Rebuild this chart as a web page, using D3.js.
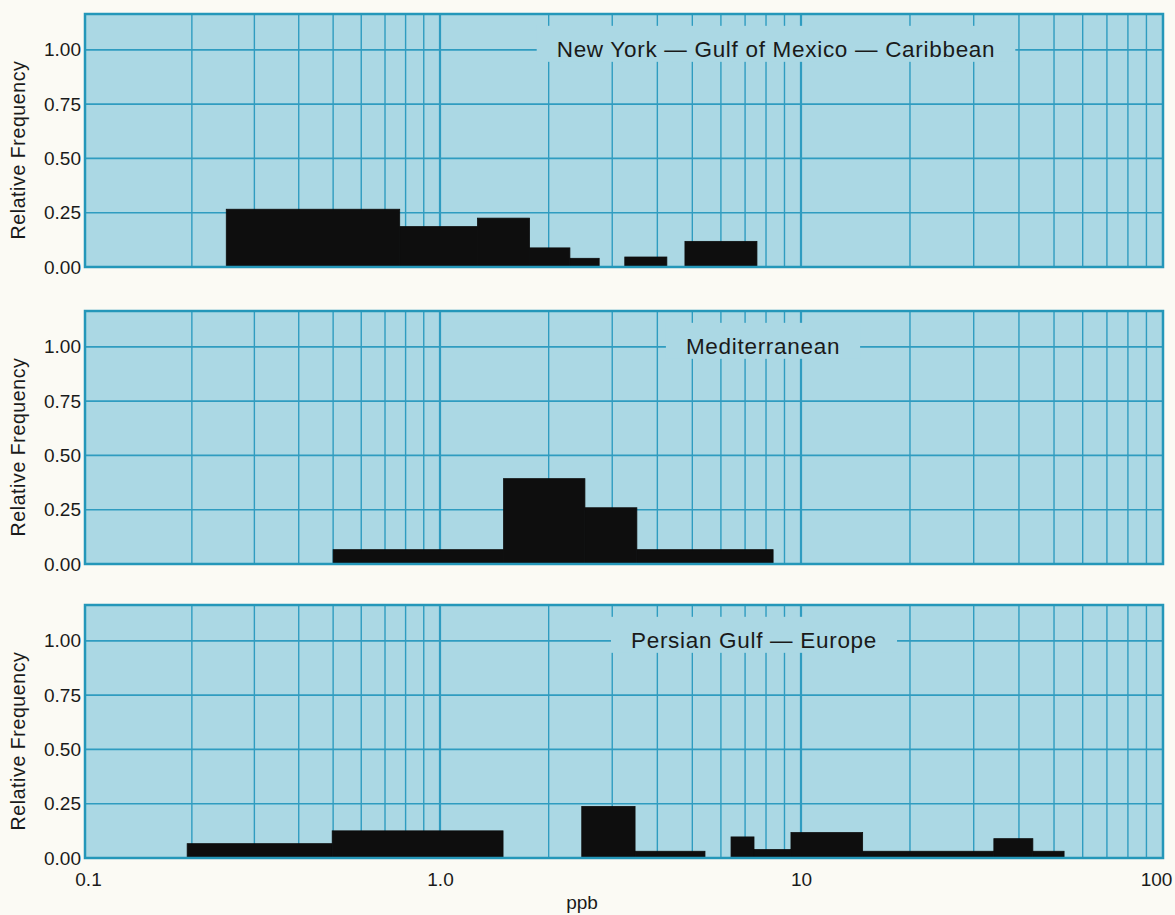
<!DOCTYPE html>
<html>
<head>
<meta charset="utf-8">
<script src="https://cdn.jsdelivr.net/npm/d3@7"></script>
<style>
  body { margin: 0; background: #fbfaf4; }
  svg { display: block; }
  text { font-family: "Liberation Sans", Arial, Helvetica, sans-serif; fill: #1a1a1a; }
</style>
</head>
<body>
<div id="chart"></div>
<script>
// values (ppb bin edges, relative frequency)
const nyLow  = [0.25, 0.77, 1.27, 1.77, 2.29, 3.25, 4.77];
const nyHigh = [0.77, 1.27, 1.77, 2.29, 2.76, 4.25, 7.55];
const nyFreq = [0.266, 0.186, 0.225, 0.088, 0.040, 0.046, 0.118];

const medLow  = [0.5, 1.5, 2.52, 3.51];
const medHigh = [1.5, 2.52, 3.51, 8.37];
const medFreq = [0.066, 0.393, 0.259, 0.066];

const pgLow  = [0.194, 0.497, 2.47, 3.47, 6.4, 7.41, 9.38, 14.8, 34.1, 43.7];
const pgHigh = [0.497, 1.495, 3.47, 5.42, 7.41, 9.38, 14.8, 34.1, 43.7, 53.3];
const pgFreq = [0.066, 0.125, 0.2375, 0.031, 0.097, 0.039, 0.117, 0.031, 0.089, 0.031];

const panelTitles = ["New York \u2014 Gulf of Mexico \u2014 Caribbean", "Mediterranean", "Persian Gulf \u2014 Europe"];
const yTicks = [0, 0.25, 0.5, 0.75, 1.0];
const xTicks = [0.1, 1, 10, 100];
const xTickLabels = ["0.1", "1.0", "10", "100"];

const W = 1175, H = 915;
const left = 85, right = 1163;
const panelTop = [14, 311, 605];
const panelH = 253;
const titleX = [776, 763, 754];

const bg = "#abd8e4", gridCol = "#2f9cc0", borderCol = "#2497b9";

const panels = [
  { lo: nyLow, hi: nyHigh, f: nyFreq },
  { lo: medLow, hi: medHigh, f: medFreq },
  { lo: pgLow, hi: pgHigh, f: pgFreq }
];

const svg = d3.select("#chart").append("svg")
  .attr("width", W)
  .attr("height", H);

// the printed log paper is slightly tighter in the first decade
const x = d3.scaleLog()
  .domain([0.1, 1, 10, 100])
  .range([left, 440, 801, right]);

const y = d3.scaleLinear()
  .domain([0, 1.165])
  .range([panelH, 0]);

// minor grid values for every decade
const gridVals = [];
[0.1, 1, 10].forEach(d => {
  for (let k = 1; k <= 9; k++) gridVals.push(d * k);
});
gridVals.push(100);

panels.forEach((p, i) => {
  const g = svg.append("g").attr("transform", `translate(0,${panelTop[i]})`);

  g.append("rect")
    .attr("x", left).attr("y", 0)
    .attr("width", right - left).attr("height", panelH)
    .attr("fill", bg);

  // vertical grid
  g.selectAll(".vg").data(gridVals).enter().append("line")
    .attr("x1", d => x(d)).attr("x2", d => x(d))
    .attr("y1", 0).attr("y2", panelH)
    .attr("stroke", gridCol)
    .attr("stroke-width", d => (Math.abs(d - 1) < 1e-9 || Math.abs(d - 10) < 1e-9) ? 2.2 : 1.4);

  // horizontal grid
  g.selectAll(".hg").data(yTicks.slice(1)).enter().append("line")
    .attr("x1", left).attr("x2", right)
    .attr("y1", d => y(d)).attr("y2", d => y(d))
    .attr("stroke", gridCol)
    .attr("stroke-width", 1.6);

  // title with a blank box cut out of the grid
  const t = g.append("text")
    .attr("x", titleX[i])
    .attr("y", y(1) + 7)
    .attr("text-anchor", "middle")
    .style("font-size", "22.5px")
    .style("letter-spacing", "0.7px")
    .text(panelTitles[i]);
  const tw = t.node().getComputedTextLength();
  g.insert("rect", "text")
    .attr("x", titleX[i] - tw / 2 - 20)
    .attr("y", y(1) - 24)
    .attr("width", tw + 40)
    .attr("height", 36)
    .attr("fill", bg);

  // histogram bars
  g.selectAll(".bar").data(p.f).enter().append("rect")
    .attr("x", (d, j) => x(p.lo[j]))
    .attr("width", (d, j) => x(p.hi[j]) - x(p.lo[j]))
    .attr("y", d => y(d))
    .attr("height", d => panelH - y(d))
    .attr("fill", "#0e0e0e")
    .attr("stroke", "#0e0e0e")
    .attr("stroke-width", 0.8);

  // border
  g.append("rect")
    .attr("x", left).attr("y", 0)
    .attr("width", right - left).attr("height", panelH)
    .attr("fill", "none")
    .attr("stroke", borderCol)
    .attr("stroke-width", 2.5);

  // y axis
  const ya = g.append("g")
    .attr("transform", `translate(${left},0)`)
    .call(d3.axisLeft(y).tickValues(yTicks).tickSize(0).tickPadding(4).tickFormat(d3.format(".2f")));
  ya.select(".domain").remove();
  ya.selectAll("text")
    .style("font-size", "19px")
    .style("font-family", "'Liberation Sans', Arial, sans-serif")
    .attr("fill", "#1a1a1a");

  g.append("text")
    .attr("transform", `translate(25,${136}) rotate(-90)`)
    .attr("text-anchor", "middle")
    .style("font-size", "19.5px")
    .style("letter-spacing", "0.6px")
    .text("Relative Frequency");

  if (i === 2) {
    const xa = g.append("g")
      .attr("transform", `translate(0,${panelH})`)
      .call(d3.axisBottom(x).tickValues(xTicks).tickSize(0).tickPadding(15)
        .tickFormat((d, k) => xTickLabels[k]));
    xa.select(".domain").remove();
    xa.selectAll("text")
      .style("font-size", "19px")
      .style("font-family", "'Liberation Sans', Arial, sans-serif")
      .attr("fill", "#1a1a1a")
      .attr("dx", (d, k) => k === 0 ? 3 : (k === xTicks.length - 1 ? -7 : 0));

    g.append("text")
      .attr("x", 582)
      .attr("y", panelH + 51)
      .attr("text-anchor", "middle")
      .style("font-size", "19px")
      .text("ppb");
  }
});
</script>
</body>
</html>
